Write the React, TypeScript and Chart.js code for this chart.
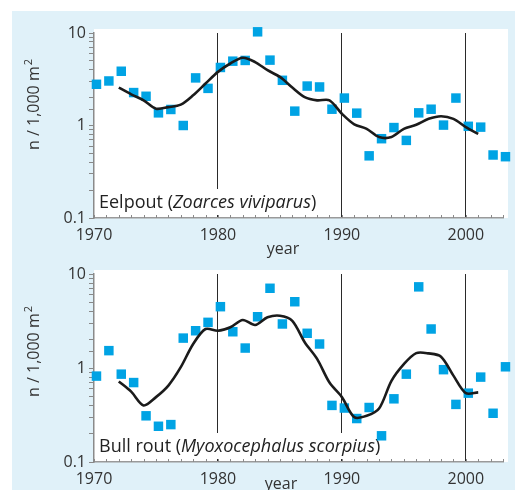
import React, { useEffect, useRef } from "react";
import { Chart, registerables } from "chart.js";

Chart.register(...registerables);

// ---------- data ----------
const OBS_YEARS = [
  1970, 1971, 1972, 1973, 1974, 1975, 1976, 1977, 1978, 1979,
  1980, 1981, 1982, 1983, 1984, 1985, 1986, 1987, 1988, 1989,
  1990, 1991, 1992, 1993, 1994, 1995, 1996, 1997, 1998, 1999,
  2000, 2001, 2002, 2003,
];
const TREND_YEARS = [
  1972, 1973, 1974, 1975, 1976, 1977, 1978, 1979,
  1980, 1981, 1982, 1983, 1984, 1985, 1986, 1987, 1988, 1989,
  1990, 1991, 1992, 1993, 1994, 1995, 1996, 1997, 1998, 1999,
  2000, 2001,
];

const EELPOUT_OBS = [
  2.79, 3.03, 3.86, 2.27, 2.07, 1.37, 1.49, 1.0, 3.27, 2.52,
  4.24, 4.96, 5.05, 10.3, 5.09, 3.08, 1.43, 2.67, 2.61, 1.5,
  1.98, 1.36, 0.47, 0.72, 0.95, 0.69, 1.37, 1.5, 1.01, 1.98,
  0.98, 0.96, 0.48, 0.46,
];
const EELPOUT_TREND = [
  2.57, 2.17, 1.87, 1.52, 1.58, 1.68, 2.12, 2.84,
  3.8, 4.68, 5.4, 4.85, 3.96, 3.35, 2.57, 2.03, 1.87, 1.87,
  1.34, 1.03, 0.92, 0.75, 0.75, 0.92, 1.02, 1.18, 1.26, 1.18,
  0.96, 0.81,
];

const BULLROUT_OBS = [
  0.82, 1.53, 0.86, 0.7, 0.31, 0.24, 0.25, 2.08, 2.49, 3.06,
  4.49, 2.43, 1.63, 3.51, 7.05, 2.94, 5.07, 2.34, 1.8, 0.4,
  0.375, 0.29, 0.38, 0.19, 0.47, 0.86, 7.3, 2.6, 0.96, 0.41,
  0.54, 0.8, 0.33, 1.03,
];
const BULLROUT_TREND = [
  0.72, 0.56, 0.4, 0.49, 0.65, 1.02, 1.8, 2.6,
  2.49, 2.71, 3.24, 2.87, 3.46, 3.6, 3.18, 1.88, 1.25, 0.7,
  0.49, 0.3, 0.31, 0.37, 0.73, 1.1, 1.44, 1.43, 1.32, 0.83,
  0.54, 0.55,
];

const X_TICK_LABELS = ["1970", "1980", "1990", "2000"];
const Y_TICK_LABELS = ["0.1", "1", "10"];
const DECADE_LINES = [1980, 1990, 2000];
const X_MIN = 1970;
const X_MAX = 2003;
const Y_MIN = 0.1;
const Y_MAX = 10;
const POINT_OFFSET = 0.2; // survey points sit slightly right of the year mark

const FONT = '"Open Sans", "DejaVu Sans", sans-serif';
const TEXT = "#333333";
const SQUARE = "#00a3e4";

type PanelCfg = {
  obs: number[];
  trend: number[];
  name: string;
  latin: string;
  canvasTop: number;
  canvasH: number;
  padTop: number;
  plotBottom: number; // chart area bottom in canvas coords
  yearX: number;
  yearBase: number;
  yTitleY: number;
  labelBase: number;
};

function makeChart(canvas: HTMLCanvasElement, p: PanelCfg) {
  const panelPlugin = {
    id: "panel",
    beforeDraw(chart: any) {
      const { ctx, chartArea: a } = chart;
      ctx.save();
      ctx.fillStyle = "#ffffff";
      ctx.fillRect(a.left, a.top - 4, a.right - a.left + 5, a.bottom - a.top + 4);
      ctx.restore();
    },
    beforeDatasetsDraw(chart: any) {
      const { ctx, chartArea: a } = chart;
      ctx.save();
      const reg = `18px ${FONT}`;
      const ita = `italic 18px ${FONT}`;
      const parts: [string, string][] = [
        [p.name + " (", reg],
        [p.latin, ita],
        [")", reg],
      ];
      let w = 0;
      for (const [t, f] of parts) {
        ctx.font = f;
        w += ctx.measureText(t).width;
      }
      const x0 = a.left + 5;
      ctx.fillStyle = "#ffffff";
      ctx.fillRect(a.left + 1, p.labelBase - 19, w + 10, 26);
      ctx.fillStyle = "#222222";
      ctx.textBaseline = "alphabetic";
      ctx.textAlign = "left";
      let x = x0;
      for (const [t, f] of parts) {
        ctx.font = f;
        ctx.fillText(t, x, p.labelBase);
        x += ctx.measureText(t).width;
      }
      ctx.restore();
    },
    afterDraw(chart: any) {
      const { ctx, chartArea: a, scales } = chart;
      const xs = scales.x;
      ctx.save();
      // small inner year ticks
      ctx.strokeStyle = "#8a8a8a";
      ctx.lineWidth = 1;
      for (const yr of OBS_YEARS) {
        const px = Math.round(xs.getPixelForValue(yr)) + 0.5;
        ctx.beginPath();
        ctx.moveTo(px, a.bottom - 3);
        ctx.lineTo(px, a.bottom);
        ctx.stroke();
      }
      // x title
      ctx.fillStyle = TEXT;
      ctx.font = `16px ${FONT}`;
      ctx.textAlign = "center";
      ctx.textBaseline = "alphabetic";
      ctx.fillText("year", p.yearX, p.yearBase);
      // y title
      ctx.translate(38.5, p.yTitleY);
      ctx.rotate(-Math.PI / 2);
      ctx.textAlign = "left";
      ctx.font = `16px ${FONT}`;
      const main = "n / 1,000 m";
      ctx.fillText(main, 0, 0);
      const mw = ctx.measureText(main).width;
      ctx.font = `11px ${FONT}`;
      ctx.fillText("2", mw + 1, -7);
      ctx.restore();
    },
  };

  const isPow10 = (v: number) =>
    Math.abs(Math.log10(v) - Math.round(Math.log10(v))) < 1e-6;

  return new Chart(canvas, {
    type: "scatter",
    data: {
      datasets: [
        {
          type: "line",
          data: TREND_YEARS.map((yr, i) => ({ x: yr, y: p.trend[i] })),
          borderColor: "#1b1b1b",
          borderWidth: 2.6,
          pointRadius: 0,
          tension: 0.3,
          fill: false,
        } as any,
        {
          type: "scatter",
          data: OBS_YEARS.map((yr, i) => ({ x: yr + POINT_OFFSET, y: p.obs[i] })),
          pointStyle: "rect",
          pointRadius: 6.7,
          pointHoverRadius: 6.7,
          backgroundColor: SQUARE,
          borderWidth: 0,
          clip: false,
        } as any,
      ],
    },
    options: {
      responsive: false,
      maintainAspectRatio: false,
      animation: false,
      events: [],
      layout: { padding: { top: p.padTop, right: 12, left: 0, bottom: 0 } },
      plugins: { legend: { display: false }, tooltip: { enabled: false } },
      scales: {
        x: {
          type: "linear",
          min: X_MIN,
          max: X_MAX,
          afterFit: (s: any) => {
            s.height = p.canvasH - p.plotBottom;
          },
          ticks: {
            stepSize: 1,
            autoSkip: false,
            maxRotation: 0,
            minRotation: 0,
            padding: 8,
            color: TEXT,
            font: { family: FONT, size: 16 },
            callback: (v: any) => {
              const s = String(v);
              return X_TICK_LABELS.includes(s) ? s : "";
            },
          },
          grid: {
            drawTicks: false,
            lineWidth: 1,
            color: (c: any) =>
              c.tick && DECADE_LINES.includes(c.tick.value) ? "#2a2a2a" : "rgba(0,0,0,0)",
          },
          border: { color: "#9a9a9a", width: 1.5 },
        },
        y: {
          type: "logarithmic",
          min: Y_MIN,
          max: Y_MAX,
          afterFit: (s: any) => {
            s.width = 94;
          },
          ticks: {
            autoSkip: false,
            padding: 3,
            color: TEXT,
            font: { family: FONT, size: 16 },
            callback: (v: any) => {
              const n = Number(v);
              if (!isPow10(n)) return "";
              const s = String(Number(n.toPrecision(1)));
              return Y_TICK_LABELS.includes(s) ? s : "";
            },
          },
          grid: {
            drawOnChartArea: false,
            drawTicks: true,
            tickLength: 5,
            tickColor: "#888888",
          },
          border: { color: "#8a8a8a", width: 1.5 },
        },
      },
    },
    plugins: [panelPlugin],
  } as any);
}

function Panel({ cfg }: { cfg: PanelCfg }) {
  const ref = useRef<HTMLCanvasElement | null>(null);
  useEffect(() => {
    if (!ref.current) return;
    const c = makeChart(ref.current, cfg);
    return () => c.destroy();
  }, [cfg]);
  return (
    <canvas
      ref={ref}
      width={515}
      height={cfg.canvasH}
      style={{ position: "absolute", left: 0, top: cfg.canvasTop, width: 515, height: cfg.canvasH }}
    />
  );
}

const TOP: PanelCfg = {
  obs: EELPOUT_OBS,
  trend: EELPOUT_TREND,
  name: "Eelpout",
  latin: "Zoarces viviparus",
  canvasTop: 0,
  canvasH: 262,
  padTop: 33,
  plotBottom: 218,
  yearX: 283,
  yearBase: 254,
  yTitleY: 150,
  labelBase: 208,
};

const BOTTOM: PanelCfg = {
  obs: BULLROUT_OBS,
  trend: BULLROUT_TREND,
  name: "Bull rout",
  latin: "Myoxocephalus scorpius",
  canvasTop: 250,
  canvasH: 240,
  padTop: 24,
  plotBottom: 212,
  yearX: 281,
  yearBase: 239,
  yTitleY: 147,
  labelBase: 202,
};

export default function App() {
  return (
    <div
      style={{
        position: "fixed",
        left: 0,
        top: 0,
        width: 515,
        height: 490,
        background: "#ffffff",
        overflow: "hidden",
      }}
    >
      <div
        style={{
          position: "absolute",
          left: 12,
          top: 11,
          width: 503,
          height: 479,
          background: "#e0f1f9",
        }}
      />
      <Panel cfg={TOP} />
      <Panel cfg={BOTTOM} />
    </div>
  );
}
